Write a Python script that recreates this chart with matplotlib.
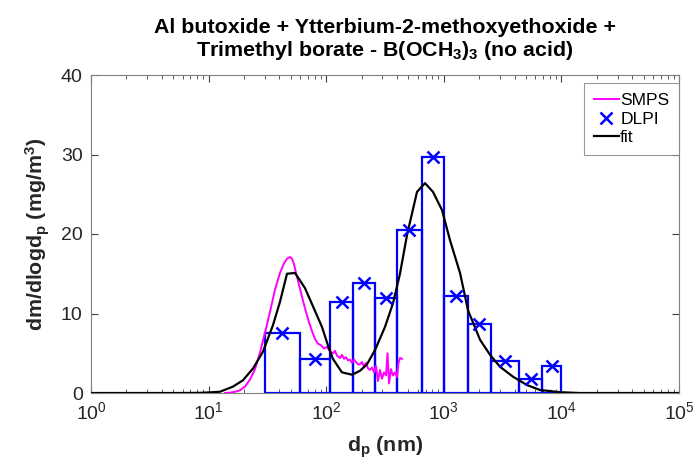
import numpy as np
import matplotlib
matplotlib.use("Agg")
import matplotlib.pyplot as plt
from matplotlib.ticker import LogLocator, NullFormatter, FixedLocator

plt.rcParams['font.family'] = ['Liberation Sans', 'DejaVu Sans']
plt.rcParams['mathtext.default'] = 'regular'

# DLPI stage cut diameters (nm) and dm/dlogdp values (mg/m^3)
dlpi_edges = [30, 60, 108, 170, 260, 400, 650, 1000, 1600, 2500, 4400, 6800, 10000]
dlpi_values = [7.5, 4.3, 11.5, 13.8, 11.9, 20.5, 29.7, 12.2, 8.7, 4.0, 1.7, 3.4]

# SMPS curve
smps_d = [13.79, 15.21, 16.77, 18.49, 20.39, 22.49, 24.80, 27.36, 30.17, 33.27,
          36.69, 40.46, 43.77, 46.42, 49.23, 51.20, 53.24, 56.46, 59.88, 63.50,
          67.34, 71.41, 75.74, 80.32, 85.17, 90.33, 95.79, 101.6, 107.7, 114.2,
          118.8, 123.5, 131.0, 136.2, 141.7, 147.3, 153.2, 159.4, 165.7, 172.4,
          179.2, 186.4, 193.8, 201.6, 209.6, 218.0, 226.7, 235.7, 245.2, 255.0,
          265.1, 275.7, 286.7, 298.2, 310.1, 322.5, 332.1, 342.0, 355.6, 369.8,
          384.6, 399.9, 411.9, 424.3, 441.2]
smps_v = [0.0, 0.05, 0.15, 0.35, 0.8, 1.7, 3.0, 5.1, 7.6, 10.2,
          13.0, 15.1, 16.3, 16.9, 17.1, 16.9, 16.2, 14.6, 13.1, 11.6,
          10.2, 8.9, 7.8, 6.8, 6.2, 6.0, 5.6, 5.8, 5.2, 5.0,
          5.3, 4.7, 4.4, 4.8, 4.3, 4.5, 4.1, 4.2, 3.8, 4.2,
          3.9, 3.6, 3.6, 3.9, 3.3, 3.8, 3.1, 2.9, 3.2, 2.6,
          3.4, 1.5, 2.9, 1.8, 2.6, 2.2, 5.0, 1.2, 3.0, 2.2,
          2.6, 2.0, 3.8, 4.4, 4.3]

# Fit curve
fit_d = [1, 5.7, 8.45, 10.3, 12.5, 16.1, 19.6, 23.9, 29.0, 35.3, 40.5, 46.4, 54.3,
         66.0, 77.2, 92.1, 103.5, 114, 136, 166, 194, 222, 260, 316, 370, 424,
         487, 592, 692, 809, 966, 1130, 1374, 1607, 2032, 2472, 3006, 3875,
         5098, 6577, 9727, 14400, 100000]
fit_v = [0, 0, 0.02, 0.08, 0.16, 0.8, 1.6, 3.1, 5.2, 8.55, 11.5, 15.0, 15.1,
         13.2, 10.9, 8.3, 6.0, 4.3, 2.6, 2.3, 2.8, 3.6, 5.4, 8.3, 11.3, 15.0,
         19.9, 25.3, 26.4, 25.3, 23.0, 19.2, 15.1, 10.4, 6.7, 4.8, 3.3, 2.05,
         1.0, 0.38, 0.1, 0, 0]

title_lines = ["Al butoxide + Ytterbium-2-methoxyethoxide +",
               "Trimethyl borate - B(OCH$_3$)$_3$ (no acid)"]

fig = plt.figure(figsize=(6.97, 4.70), dpi=100)
ax = fig.add_axes([91/697, 1-393/470, (679-91)/697, (393-75)/470])

edges = np.array(dlpi_edges, dtype=float)
lo, hi = edges[:-1], edges[1:]
ax.bar(lo, dlpi_values, width=hi - lo, align='edge', fill=False,
       edgecolor=(0, 0, 1), linewidth=1.6, zorder=2)
l1, = ax.plot(smps_d, smps_v, color=(1, 0, 1), lw=1.4, zorder=3, label='SMPS')
mid = np.sqrt(lo * hi)
l2, = ax.plot(mid, dlpi_values, ls='none', marker='x', color=(0, 0, 1),
              ms=8, mew=1.8, zorder=5, label='DLPI')
l3, = ax.plot(fit_d, fit_v, color='black', lw=1.6, zorder=4, label='fit')

ax.set_xscale('log')
ax.set_xlim(1, 1e5)
ax.set_ylim(0, 40)
ax.xaxis.set_major_locator(LogLocator(base=10, numticks=10))
ax.xaxis.set_minor_locator(LogLocator(base=10, subs=np.arange(2, 10), numticks=20))
ax.xaxis.set_minor_formatter(NullFormatter())
ax.yaxis.set_major_locator(FixedLocator([0, 10, 20, 30, 40]))

gray = (0.15, 0.15, 0.15)
for s in ax.spines.values():
    s.set_color('#808080')
    s.set_linewidth(0.8)
ax.tick_params(which='both', direction='in', top=True, right=True,
               colors='#404040', labelcolor=gray, labelsize=14)
ax.tick_params(which='major', length=5, width=0.8, pad=6)
ax.tick_params(which='minor', length=3, width=0.6)

ax.set_xlabel('d$_p$ (nm)', fontsize=15.4, fontweight='bold', color=gray, labelpad=8)
ax.set_ylabel('dm/dlogd$_p$ (mg/m$^3$)', fontsize=15.4, fontweight='bold', color=gray, labelpad=6)
ax.set_title("\n".join(title_lines), fontsize=15.4, fontweight='bold', color='black',
             pad=14, linespacing=1.1)

leg = ax.legend(handles=[l1, l2, l3], loc='upper right',
                bbox_to_anchor=(1.0, 1 - 8/318), fontsize=12.6, frameon=True,
                fancybox=False, edgecolor='#808080', handlelength=1.4,
                handletextpad=0.1, borderpad=0.55, labelspacing=0.2,
                borderaxespad=0.0)
leg.get_frame().set_linewidth(0.8)

fig.savefig('out.png', dpi=100)
